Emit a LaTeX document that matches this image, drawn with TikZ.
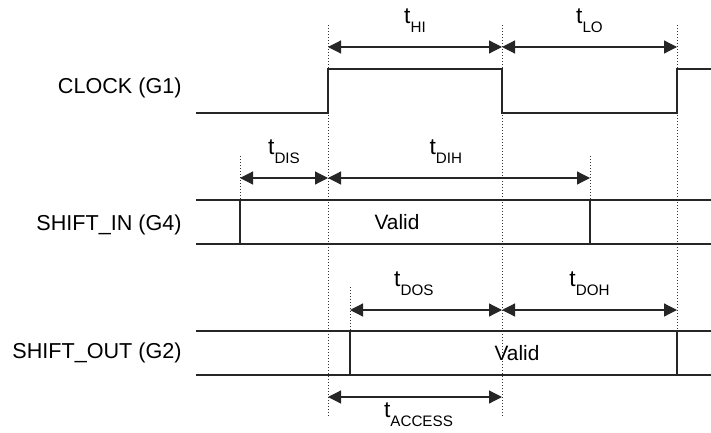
\documentclass[tikz,border=0pt]{standalone}
\usepackage{fontspec}
\setmainfont{Liberation Sans}
\usepackage{tikz}
\usetikzlibrary{calc,positioning,arrows.meta}
\newcommand{\tsub}[1]{t\raisebox{-4.6pt}{\fontsize{7.6}{8}\selectfont #1}}
\tikzset{
  signal/.style={draw=black!85,line width=0.65pt},
  guide/.style={draw=black!80,line width=0.45pt,dash pattern=on 0.5pt off 1pt},
  dim/.style={draw=black!85,line width=0.6pt,{Triangle[length=6.5pt,width=6.5pt]}-{Triangle[length=6.5pt,width=6.5pt]}},
  tlab/.style={above=6.8pt,inner sep=0pt,font=\fontsize{11.4}{12}\selectfont},
  tlabb/.style={below=2.5pt,inner sep=0pt,font=\fontsize{11.4}{12}\selectfont},
  signame/.style={anchor=east,inner sep=0pt,font=\fontsize{10.8}{13}\selectfont},
  val/.style={inner sep=0pt,font=\fontsize{10.4}{12}\selectfont}
}

\begin{document}
\begin{tikzpicture}[x=0.5pt,y=-0.5pt]
		\useasboundingbox (0,0) rectangle (711,433);
		% edges in time
		\coordinate (up1) at (328,25);
		\coordinate (dn1) at (502,25);
		\coordinate (up2) at (677,25);
		\coordinate (inS) at (240,156);
		\coordinate (inH) at (590,156);
		\coordinate (outS) at (350,287);
		% dotted guides
		\draw[guide] (up1) -- (up1 |- 0,417);
		\draw[guide] (dn1) -- (dn1 |- 0,417);
		\draw[guide] (up2) -- (up2 |- 0,331);
		\draw[guide] (inS) -- (inS |- 0,200);
		\draw[guide] (inH) -- (inH |- 0,200);
		\draw[guide] (outS) -- (outS |- 0,331);
		% signal names
		\node(clk) [signame] at (182,88) {CLOCK (G1)};
		\node(sin) [signame] at (182,225) {SHIFT\_IN (G4)};
		\node(sout) [signame] at (182,353) {SHIFT\_OUT (G2)};
		% clock
		\draw[signal] (196,113) -- (up1 |- 0,113) -- (up1 |- 0,69) -- (dn1 |- 0,69)
			-- (dn1 |- 0,113) -- (up2 |- 0,113) -- (up2 |- 0,69) -- (711,69);
		% shift in
		\draw[signal] (196,200) -- (711,200) (196,244) -- (711,244)
			(inS |- 0,200) -- (inS |- 0,244) (inH |- 0,200) -- (inH |- 0,244);
		\node(vin) [val] at (397,222) {Valid};
		% shift out
		\draw[signal] (196,331) -- (711,331) (196,375) -- (711,375)
			(outS |- 0,331) -- (outS |- 0,375) (up2 |- 0,331) -- (up2 |- 0,375);
		\node(vout) [val] at (517,353) {Valid};
		% timing arrows
		\draw[dim] (up1 |- 0,47) -- (dn1 |- 0,47) node(hi) [tlab,midway] {\tsub{HI}};
		\draw[dim] (dn1 |- 0,47) -- (up2 |- 0,47) node(lo) [tlab,midway] {\tsub{LO}};
		\draw[dim] (inS |- 0,178) -- (up1 |- 0,178) node(dis) [tlab,midway] {\tsub{DIS}};
		\draw[dim] (up1 |- 0,178) -- (inH |- 0,178) node(dih) [tlab,pos=0.45] {\tsub{DIH}};
		\draw[dim] (outS |- 0,310) -- (dn1 |- 0,310) node(dos) [tlab,pos=0.42] {\tsub{DOS}};
		\draw[dim] (dn1 |- 0,310) -- (up2 |- 0,310) node(doh) [tlab,midway] {\tsub{DOH}};
		\draw[dim] (up1 |- 0,397) -- (dn1 |- 0,397) node(acc) [tlabb,pos=0.52] {\tsub{ACCESS}};
	\end{tikzpicture}
\end{document}
